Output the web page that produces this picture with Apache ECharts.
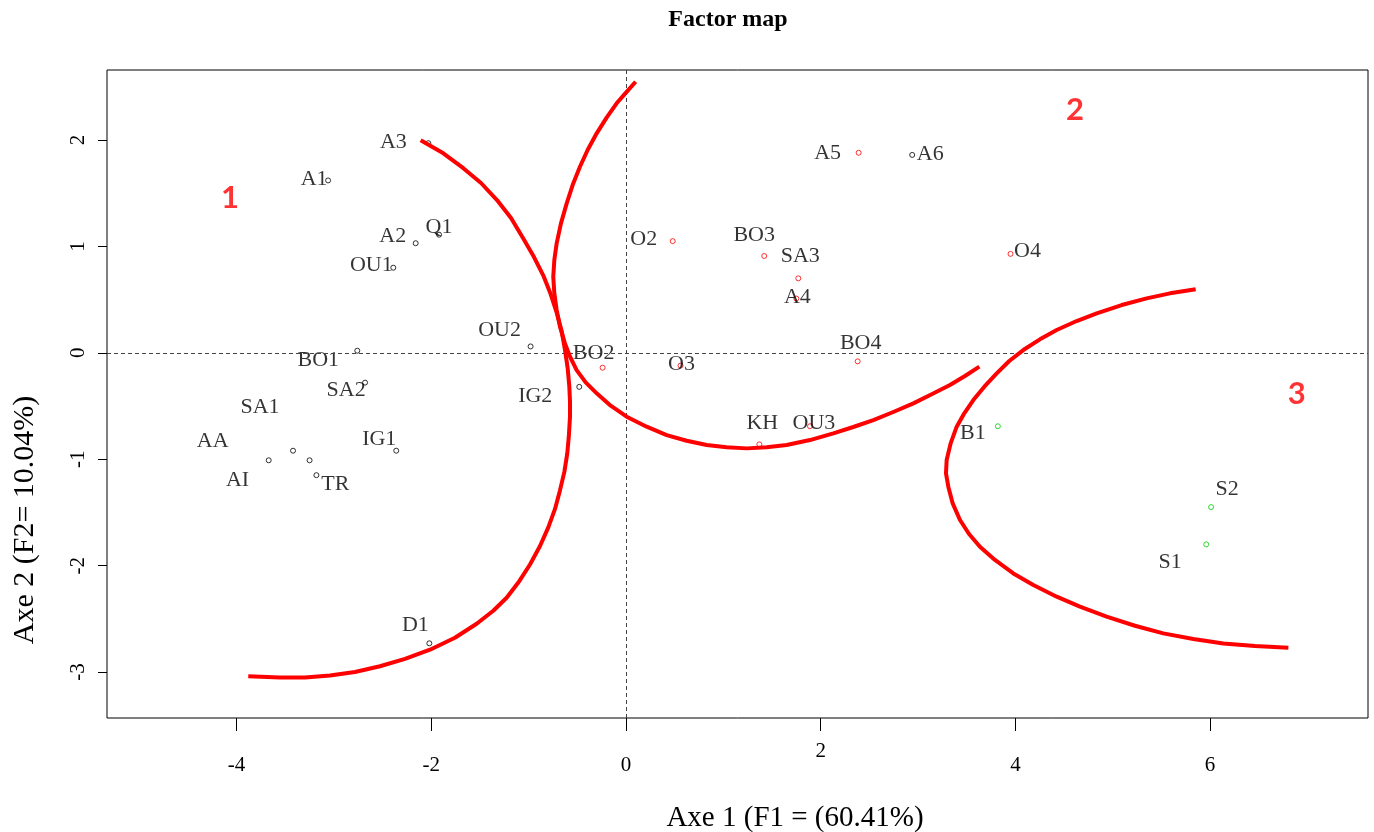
<!DOCTYPE html>
<html><head><meta charset="utf-8">
<script src="https://cdn.jsdelivr.net/npm/echarts@6/dist/echarts.min.js"></script>
<style>html,body{margin:0;padding:0;background:#fff}#c{width:1374px;height:832px}</style>
</head><body><div id="c"></div>
<script>
// ---------- data ----------
const pointNames  = ['A1','A2','A3','Q1','OU1','BO1','SA1','SA2','AA','AI','TR','IG1','OU2','IG2','D1','A6',
                     'A5','O2','BO3','SA3','A4','O4','BO2','O3','BO4','KH','OU3',
                     'B1','S1','S2'];
const pointX      = [-3.06,-2.16,-2.03,-1.92,-2.39,-2.76,-3.42,-2.68,-3.67,-3.25,-3.18,-2.36,-0.98,-0.48,-2.02,2.94,
                     2.39,0.48,1.42,1.77,1.75,3.95,-0.24,0.56,2.38,1.37,1.89,
                     3.82,5.96,6.01];
const pointY      = [1.62,1.03,1.97,1.11,0.80,0.02,-0.92,-0.28,-1.01,-1.01,-1.15,-0.92,0.06,-0.32,-2.73,1.86,
                     1.88,1.05,0.91,0.70,0.51,0.93,-0.14,-0.12,-0.08,-0.86,-0.69,
                     -0.69,-1.80,-1.45];
const pointColour = ['k','k','k','k','k','k','k','k','k','k','k','k','k','k','k','k',
                     'r','r','r','r','r','r','r','r','r','r','r',
                     'g','g','g'];

const curve1X = [-2.109,-1.876,-1.671,-1.489,-1.325,-1.181,-1.055,-0.945,-0.849,-0.774,-0.712,-0.661,-0.627,-0.599,-0.582,-0.575,-0.575,-0.586,-0.603,-0.633,-0.678,-0.729,-0.798,-0.883,-0.986,-1.096,-1.226,-1.363,-1.534,-1.757,-2.013,-2.270,-2.527,-2.784,-3.041,-3.297,-3.554,-3.880];
const curve1Y = [1.997,1.875,1.735,1.596,1.436,1.267,1.074,0.900,0.726,0.552,0.378,0.204,0.030,-0.144,-0.318,-0.458,-0.597,-0.771,-0.945,-1.119,-1.293,-1.467,-1.641,-1.815,-1.989,-2.146,-2.302,-2.424,-2.546,-2.678,-2.790,-2.877,-2.946,-2.999,-3.033,-3.051,-3.051,-3.040];
const curve2X = [0.099,0.000,-0.096,-0.199,-0.301,-0.394,-0.473,-0.548,-0.609,-0.668,-0.712,-0.736,-0.747,-0.736,-0.712,-0.678,-0.627,-0.575,-0.507,-0.414,-0.301,-0.157,0.007,0.212,0.418,0.623,0.829,1.034,1.240,1.445,1.650,1.890,2.130,2.335,2.541,2.746,2.952,3.140,3.328,3.482,3.630];
const curve2Y = [2.548,2.445,2.345,2.210,2.063,1.906,1.749,1.577,1.405,1.217,1.029,0.872,0.716,0.559,0.402,0.246,0.089,-0.036,-0.162,-0.278,-0.381,-0.497,-0.600,-0.694,-0.773,-0.826,-0.867,-0.888,-0.898,-0.888,-0.867,-0.820,-0.757,-0.697,-0.632,-0.556,-0.475,-0.390,-0.303,-0.218,-0.130];
const curve3X = [5.852,5.588,5.348,5.092,4.835,4.629,4.424,4.252,4.081,3.937,3.808,3.681,3.568,3.475,3.397,3.335,3.294,3.287,3.311,3.356,3.431,3.524,3.636,3.790,3.979,4.184,4.424,4.663,4.937,5.228,5.519,5.828,6.136,6.461,6.804];
const curve3Y = [0.597,0.559,0.512,0.449,0.371,0.299,0.214,0.127,0.026,-0.077,-0.193,-0.318,-0.444,-0.569,-0.694,-0.851,-1.008,-1.133,-1.258,-1.415,-1.571,-1.703,-1.822,-1.947,-2.073,-2.182,-2.292,-2.386,-2.480,-2.565,-2.637,-2.690,-2.731,-2.756,-2.771];

const groupNames = ['1','2','3'];
const groupX = [-4.068, 4.612, 6.890];
const groupY = [1.455, 2.282, -0.388];

const xTicks = [-4,-2,0,2,4,6];
const yTicks = [-3,-2,-1,0,1,2];

const titleText = 'Factor map';
const xTitle = 'Axe 1 (F1 = (60.41%)';
const yTitle = 'Axe 2 (F2= 10.04%)';

// ---------- layout (pixel label offsets, kept apart from data) ----------
const labelOffset = {
  A1:[-14,-1], A2:[-23,-7], A3:[-35,-1], Q1:[0,-7], OU1:[-22,-2], BO1:[-39,10], SA1:[-33,-43], SA2:[-19,8],
  AA:[-56,-19], AI:[-72,20], TR:[19,9], IG1:[-17,-11], OU2:[-31,-16], IG2:[-44,9], D1:[-14,-18], A6:[18,-1],
  A5:[-31,0], O2:[-29,-2], BO3:[-10,-21], SA3:[2,-22], A4:[1,-1], O4:[17,-3], BO2:[-9,-14], O3:[1,-1],
  BO4:[3,-18], KH:[3,-21], OU3:[4,-3], B1:[-25,7], S1:[-36,18], S2:[16,-18]
};
const colourMap = {k:'#000000', r:'#FF0000', g:'#00CD00'};
const SERIF = '"Liberation Serif", "Times New Roman", serif';

function pointSeries(code) {
  const names = [];
  const data = [];
  pointNames.forEach((n, i) => {
    if (pointColour[i] !== code) return;
    names.push(n);
    data.push({ name: n, value: [pointX[i], pointY[i]] });
  });
  return {
    type: 'scatter', xAxisIndex: 0, yAxisIndex: 0, z: 3,
    symbol: 'circle', symbolSize: 5,
    itemStyle: { color: '#fff', borderColor: colourMap[code], borderWidth: 1 },
    label: { show: true, position: 'inside', formatter: p => p.name,
             fontFamily: SERIF, fontSize: 22, color: '#000', textBorderWidth: 0, textBorderColor: 'transparent' },
    labelLayout: function (p) {
      const off = labelOffset[names[p.dataIndex]] || [0, 0];
      return { dx: off[0], dy: off[1], hideOverlap: false };
    },
    emphasis: { disabled: true },
    data
  };
}
function curveSeries(xs, ys) {
  return {
    type: 'line', xAxisIndex: 0, yAxisIndex: 0, z: 5, smooth: false, showSymbol: false,
    symbol: 'none', lineStyle: { color: '#FF0000', width: 4, join: 'round', cap: 'butt' },
    emphasis: { disabled: true },
    data: xs.map((x, i) => [x, ys[i]])
  };
}

const series = [
  {
    type: 'line', xAxisIndex: 0, yAxisIndex: 0, data: [], z: 1,
    markLine: { silent: true, symbol: 'none', animation: false,
      lineStyle: { color: '#444', width: 1, type: [4, 3] }, label: { show: false },
      data: [{ xAxis: 0 }, { yAxis: 0 }] }
  },
  pointSeries('k'), pointSeries('r'), pointSeries('g'),
  curveSeries(curve1X, curve1Y), curveSeries(curve2X, curve2Y), curveSeries(curve3X, curve3Y),
  {
    type: 'scatter', xAxisIndex: 0, yAxisIndex: 0, z: 6, symbolSize: 0,
    itemStyle: { color: '#FF0000' },
    label: { show: true, position: 'inside', formatter: p => p.name,
             fontFamily: 'Lato, "Open Sans", sans-serif', fontWeight: 'bold', fontSize: 31, color: '#FF0000',
             textBorderWidth: 0, textBorderColor: 'transparent' },
    emphasis: { disabled: true },
    data: groupNames.map((n, i) => ({ name: n, value: [groupX[i], groupY[i]] }))
  }
];

const XMIN = -5.331, XMAX = 7.622, YMIN = -3.432, YMAX = 2.658;
const chart = echarts.init(document.getElementById('c'), null, { renderer: 'canvas' });
chart.setOption({
  animation: false,
  backgroundColor: '#fff',
  grid: { left: 107, right: 6, top: 70, bottom: 114, show: true, borderColor: '#000', borderWidth: 1, backgroundColor: 'transparent' },
  xAxis: [
    { type: 'value', min: XMIN, max: XMAX, position: 'bottom',
      axisLine: { show: false, onZero: false }, splitLine: { show: false },
      axisTick: { show: true, customValues: xTicks, length: 13, lineStyle: { color: '#000' } },
      axisLabel: { customValues: xTicks.filter(v => v !== 2), margin: 37, fontSize: 21, fontFamily: SERIF, color: '#000' } },
    { type: 'value', min: XMIN, max: XMAX, position: 'bottom', offset: 0,
      axisLine: { show: false, onZero: false }, splitLine: { show: false }, axisTick: { show: false },
      axisLabel: { customValues: [2], margin: 23, fontSize: 21, fontFamily: SERIF, color: '#000' } }
  ],
  yAxis: [
    { type: 'value', min: YMIN, max: YMAX,
      axisLine: { show: false, onZero: false }, splitLine: { show: false },
      axisTick: { show: true, customValues: yTicks, length: 9, lineStyle: { color: '#000' } },
      axisLabel: { customValues: yTicks, rotate: 90, margin: 18, fontSize: 21, fontFamily: SERIF, color: '#000' } }
  ],
  graphic: [
    { type: 'text', x: 728, y: 20, style: { text: titleText, font: 'bold 24px ' + SERIF, align: 'center', verticalAlign: 'middle', fill: '#000' } },
    { type: 'text', x: 795, y: 818, style: { text: xTitle, font: '29px ' + SERIF, align: 'center', verticalAlign: 'middle', fill: '#000' } },
    { type: 'text', x: 25, y: 520, rotation: Math.PI / 2, style: { text: yTitle, font: '30px ' + SERIF, align: 'center', verticalAlign: 'middle', fill: '#000' } }
  ],
  series
});
</script></body></html>
